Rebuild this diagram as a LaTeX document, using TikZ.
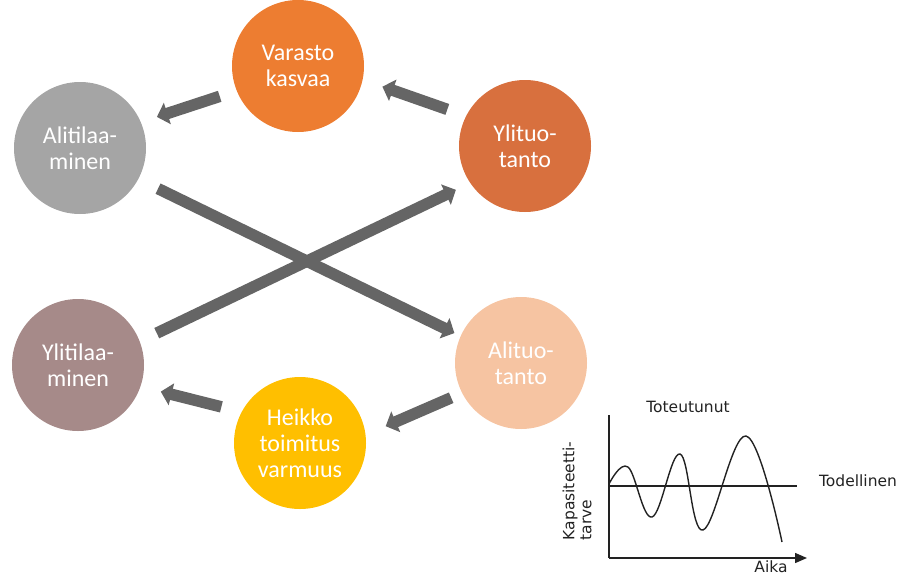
\documentclass[tikz,border=0pt]{standalone}
\usepackage{fontspec}
\setmainfont{Carlito}
\newfontfamily\chartfont{DejaVu Sans}
\usetikzlibrary{arrows.meta}

\definecolor{cOrange}{HTML}{ED7D31}
\definecolor{cGrey}{HTML}{A5A5A5}
\definecolor{cRust}{HTML}{D8703E}
\definecolor{cMauve}{HTML}{A68A89}
\definecolor{cPeach}{HTML}{F6C4A2}
\definecolor{cGold}{HTML}{FFBF00}
\definecolor{arrowgrey}{HTML}{656565}
\definecolor{ink}{HTML}{222222}

\tikzset{
  bubble/.style={circle, minimum size=132pt, inner sep=0pt, outer sep=0pt,
    text=white, align=center, font=\fontsize{24}{26}\selectfont},
  bigarrow/.style={draw=arrowgrey, line width=11.5pt,
    -{Triangle[width=22pt,length=11pt]}},
  axisline/.style={draw=ink, line width=1.4pt},
  charttext/.style={text=ink, font=\chartfont\fontsize{15.5}{17}\selectfont, inner sep=0pt},
}

\begin{document}
\begin{tikzpicture}[x=1pt, y=-1pt]
\useasboundingbox (0,0) rectangle (901,578);

% the six stages of the cycle
\node[bubble, fill=cOrange] (varasto)  at (298,66)  {Varasto\\kasvaa};
\node[bubble, fill=cGrey]   (alitilaa) at (80,148)  {Alitilaa-\\minen};
\node[bubble, fill=cRust]   (ylituo)   at (525,146) {Ylituo-\\tanto};
\node[bubble, fill=cMauve]  (ylitilaa) at (78,365)  {Ylitilaa-\\minen};
\node[bubble, fill=cPeach]  (alituo)   at (521,363) {Alituo-\\tanto};
\node[bubble, fill=cGold]   (heikko)   at (300,443) {Heikko\\toimitus\\varmuus};

% block arrows between the stages
\draw[bigarrow, shorten <=18pt, shorten >=17pt] (varasto.202) -- (alitilaa.23);
\draw[bigarrow, shorten <=20pt, shorten >=21pt] (ylituo.153) -- (varasto.348);
\draw[bigarrow, shorten <=22pt, shorten >=7pt]  (alitilaa.332) -- (alituo.156);
\draw[bigarrow, shorten <=19pt, shorten >=16pt] (ylitilaa.21) -- (ylituo.214);
\draw[bigarrow, shorten <=12pt, shorten >=22pt] (alituo.207) -- (heikko.7);
\draw[bigarrow, shorten <=21pt, shorten >=21pt] (heikko.152) -- (ylitilaa.341);

% small capacity chart
\coordinate (origin) at (609,558);
\coordinate (ytop)   at (609,415);
\coordinate (xend)   at (807,558);
\coordinate (lvlL)   at (609,486);
\coordinate (lvlR)   at (797,486);

\draw[axisline] (ytop) -- (origin);
\draw[axisline, -{Triangle[width=10pt,length=12pt]}] (origin) -- (xend);
\draw[axisline] (lvlL) -- (lvlR);
\draw[axisline, line join=round]
  plot[smooth, tension=0.65] coordinates
  {(609,484) (628,467) (652,517) (680,454) (703,530) (746,436) (782,542)};

\node[charttext] (toteutunut) at (688,407) {Toteutunut};
\node[charttext] (todellinen) at (858,481) {Todellinen};
\node[charttext] (aika)       at (771,567) {Aika};
\node[charttext, rotate=90, align=left] (kapasiteetti) at (577,491) {Kapasiteetti-\\tarve};
\end{tikzpicture}
\end{document}
